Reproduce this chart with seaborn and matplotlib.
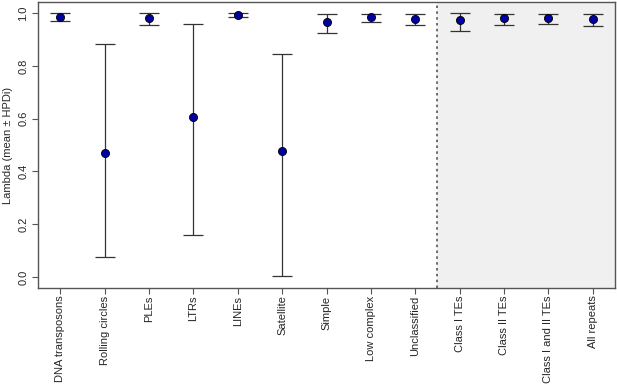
import numpy as np
import pandas as pd
import seaborn as sns
import matplotlib.pyplot as plt

# Repeat categories and lambda estimates (mean with HPD interval)
categories = ["DNA transposons", "Rolling circles", "PLEs", "LTRs", "LINEs",
              "Satellite", "Simple", "Low complex", "Unclassified",
              "Class I TEs", "Class II TEs", "Class I and II TEs", "All repeats"]
lambda_mean = [0.986, 0.468, 0.980, 0.607, 0.993, 0.476, 0.967, 0.985, 0.979,
               0.975, 0.980, 0.981, 0.979]
hpd_lower = [0.970, 0.075, 0.953, 0.158, 0.985, 0.002, 0.924, 0.965, 0.953,
             0.931, 0.956, 0.958, 0.952]
hpd_upper = [0.999, 0.882, 1.000, 0.960, 1.000, 0.846, 0.997, 0.997, 0.997,
             0.999, 0.995, 0.998, 0.998]
y_ticks = [0.0, 0.2, 0.4, 0.6, 0.8, 1.0]
n_single = 9  # first 9 are individual repeat classes, rest are pooled

df = pd.DataFrame({"category": categories, "mean": lambda_mean,
                   "lower": hpd_lower, "upper": hpd_upper})
df["pos"] = np.arange(len(df))

sns.set_style("ticks")
plt.rcParams["font.family"] = ["Liberation Sans", "DejaVu Sans"]

fig = plt.figure(figsize=(6.17, 3.85), dpi=100)
ax = fig.add_axes([0.0616, 0.252, 0.9352, 0.7428])

# shaded region for pooled categories
ax.axvspan(n_single - 0.5, len(df) - 0.5, color="#f0f0f0", zorder=0, lw=0)
ax.axvline(n_single - 0.5, color="#555555", lw=1.2, ls=(0, (1.5, 2)), zorder=1)

ax.errorbar(df["pos"], df["mean"],
            yerr=[df["mean"] - df["lower"], df["upper"] - df["mean"]],
            fmt="none", ecolor="#333333", elinewidth=0.9, capsize=7,
            capthick=0.9, zorder=2)
sns.scatterplot(data=df, x="pos", y="mean", color="#0000a0", edgecolor="black",
                linewidth=0.6, s=34, zorder=3, ax=ax, legend=False)

ax.set_xlim(-0.5, len(df) - 0.5)
ax.set_ylim(-0.042, 1.042)
ax.set_xticks(df["pos"])
ax.set_xticklabels(categories, rotation=90, fontsize=8)
ax.set_yticks(y_ticks)
ax.set_yticklabels([f"{t:.1f}" for t in y_ticks], rotation=90, va="center",
                   fontsize=8)
ax.set_xlabel("")
ax.set_ylabel("Lambda (mean ± HPDi)", fontsize=8, labelpad=4)
ax.tick_params(axis="both", length=4, width=0.8, color="#555555", pad=3)
ax.tick_params(axis="x", pad=1.5)
for sp in ax.spines.values():
    sp.set_color("#555555")
    sp.set_linewidth(1.0)

plt.savefig("out.png", dpi=100)
